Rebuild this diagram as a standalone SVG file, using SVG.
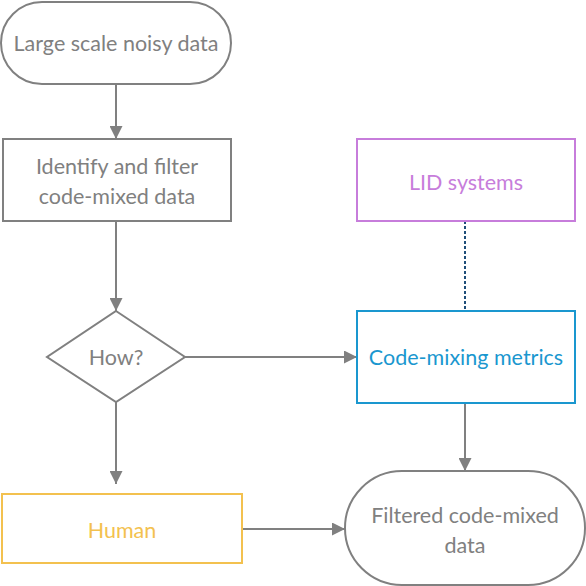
<svg xmlns="http://www.w3.org/2000/svg" width="586" height="586" viewBox="0 0 586 586">
<style>
text{font-family:Lato,"Noto Sans",sans-serif;font-size:21.5px;text-anchor:middle;dominant-baseline:central;fill:#808080}
.g{fill:#fff;stroke:#808080;stroke-width:2}
.c{fill:none;stroke:#808080;stroke-width:2}
</style>
<defs>
<marker id="ah" viewBox="0 0 12 12" refX="12" refY="6" markerWidth="13" markerHeight="13" markerUnits="userSpaceOnUse" orient="auto">
<path d="M0,0 L12,6 L0,12 Z" fill="#808080"/>
</marker>
</defs>
<g id="connectors">
<line class="c" x1="116" y1="84" x2="116" y2="139" marker-end="url(#ah)"/>
<line class="c" x1="116" y1="221" x2="116" y2="311" marker-end="url(#ah)"/>
<line class="c" x1="185" y1="357" x2="357" y2="357" marker-end="url(#ah)"/>
<line class="c" x1="116" y1="402" x2="116" y2="484" marker-end="url(#ah)"/>
<line class="c" x1="242" y1="529" x2="345" y2="529" marker-end="url(#ah)"/>
<line class="c" x1="465" y1="403" x2="465" y2="471" marker-end="url(#ah)"/>
<line x1="465" y1="221" x2="465" y2="311" stroke="#1f4e79" stroke-width="2" stroke-dasharray="3,2"/>
</g>
<g id="start">
<rect class="g" x="1" y="2" width="230" height="82" rx="41"/>
<text x="116" y="43">Large scale noisy data</text>
</g>
<g id="identify">
<rect class="g" x="3" y="139" width="228" height="82"/>
<text x="117" y="166">Identify and filter</text>
<text x="117" y="196">code-mixed data</text>
</g>
<g id="how">
<polygon class="g" points="116,311 185,357 116,402 47,357"/>
<text x="116" y="357">How?</text>
</g>
<g id="lid">
<rect x="357" y="139" width="218" height="82" fill="#fff" stroke="#c77ddb" stroke-width="2"/>
<text x="466" y="182" style="fill:#c77ddb">LID systems</text>
</g>
<g id="metrics">
<rect x="357" y="311" width="218" height="92" fill="#fff" stroke="#1a97cf" stroke-width="2"/>
<text x="466" y="357" style="fill:#1a97cf">Code-mixing metrics</text>
</g>
<g id="human">
<rect x="2" y="494" width="240" height="69" fill="#fff" stroke="#f3c14f" stroke-width="2"/>
<text x="122" y="530" style="fill:#f3c14f">Human</text>
</g>
<g id="filtered">
<rect class="g" x="345" y="471" width="240" height="114" rx="57"/>
<text x="465" y="515">Filtered code-mixed</text>
<text x="465" y="545">data</text>
</g>
</svg>
